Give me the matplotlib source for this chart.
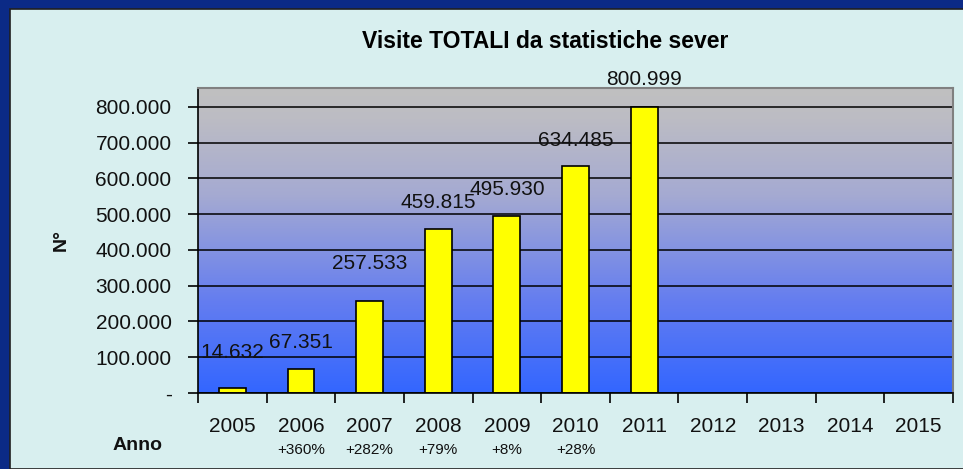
import numpy as np
import matplotlib.pyplot as plt
from matplotlib.patches import Rectangle
from matplotlib.colors import LinearSegmentedColormap

plt.rcParams['font.family'] = ['Liberation Sans', 'DejaVu Sans']

# data
years = ['2005', '2006', '2007', '2008', '2009', '2010', '2011',
         '2012', '2013', '2014', '2015']
visits = [14632, 67351, 257533, 459815, 495930, 634485, 800999]
growth = ['', '+360%', '+282%', '+79%', '+8%', '+28%']
label_lift = [35, 26, 37, 26, 26, 26, 27]   # label offset above bar, pixels

def it_fmt(v):
    return '-' if v == 0 else f'{v:,.0f}'.replace(',', '.')

fig = plt.figure(figsize=(9.63, 4.69), dpi=100, facecolor='#0b2a86')
# light panel inside the dark frame
fig.patches.append(Rectangle((10 / 963, 0), 1, (469 - 9) / 469,
                             transform=fig.transFigure, facecolor='#d8efef',
                             edgecolor='#202020', linewidth=1.2, zorder=-10))

ax = fig.add_axes([198 / 963, 76 / 469, 755 / 963, 305 / 469])
ymax = 853000
x = np.arange(len(years))
ax.set_xlim(-0.5, len(years) - 0.5)
ax.set_ylim(0, ymax)

# blue-to-grey gradient background (grey lingers towards the top)
cmap = LinearSegmentedColormap.from_list('bg', [
    (0.0, '#3366ff'), (0.3, '#647df0'), (0.65, '#a5aad2'),
    (0.9, '#bcbcc4'), (1.0, '#c0c0c0')])
grad = np.linspace(0, 1, 256).reshape(-1, 1)
ax.imshow(grad, extent=(-0.5, len(years) - 0.5, 0, ymax), origin='lower',
          aspect='auto', cmap=cmap, zorder=0)

yticks = np.arange(0, 800001, 100000)
for yt in yticks:
    ax.axhline(yt, color='black', linewidth=1.1, zorder=1)

ax.bar(x[:len(visits)], visits, width=0.39, color='#ffff00',
       edgecolor='black', linewidth=1.2, zorder=2)

for i, v in enumerate(visits):
    ax.annotate(it_fmt(v), (x[i], v), xytext=(0, label_lift[i]),
                textcoords='offset pixels', ha='center', va='center',
                fontsize=15, color='#111111', zorder=3, annotation_clip=False)

ax.set_yticks(yticks)
ax.set_yticklabels([it_fmt(v) for v in yticks])
ax.set_xticks(x)
ax.set_xticklabels(years)
ax.set_xticks(np.arange(-0.5, len(years)), minor=True)
ax.tick_params(axis='x', which='major', length=0, pad=17, labelsize=15,
               labelcolor='#111111')
ax.tick_params(axis='x', which='minor', length=7, width=1.2, direction='out')
ax.tick_params(axis='y', length=7, width=1.2, direction='out', pad=12,
               labelsize=15, labelcolor='#111111')

for sp in ['top', 'right']:
    ax.spines[sp].set_color('#808080')
    ax.spines[sp].set_linewidth(1.5)
for sp in ['left', 'bottom']:
    ax.spines[sp].set_color('black')
    ax.spines[sp].set_linewidth(1.2)

for i, g in enumerate(growth):
    if g:
        ax.annotate(g, (x[i], 0), xytext=(0, -57), textcoords='offset pixels',
                    ha='center', va='center', fontsize=11, color='#111111',
                    annotation_clip=False)

fig.text(545 / 963, 1 - 42 / 469, 'Visite TOTALI da statistiche sever',
         ha='center', va='center', fontsize=16.5, fontweight='bold')
fig.text(138 / 963, 1 - 445 / 469, 'Anno', ha='center', va='center',
         fontsize=14, fontweight='bold', color='#111111')
fig.text(61 / 963, 1 - 240 / 469, 'N°', ha='center', va='center',
         fontsize=14, fontweight='bold', rotation=90, color='#111111')

fig.savefig('out.png', dpi=100, facecolor=fig.get_facecolor())
